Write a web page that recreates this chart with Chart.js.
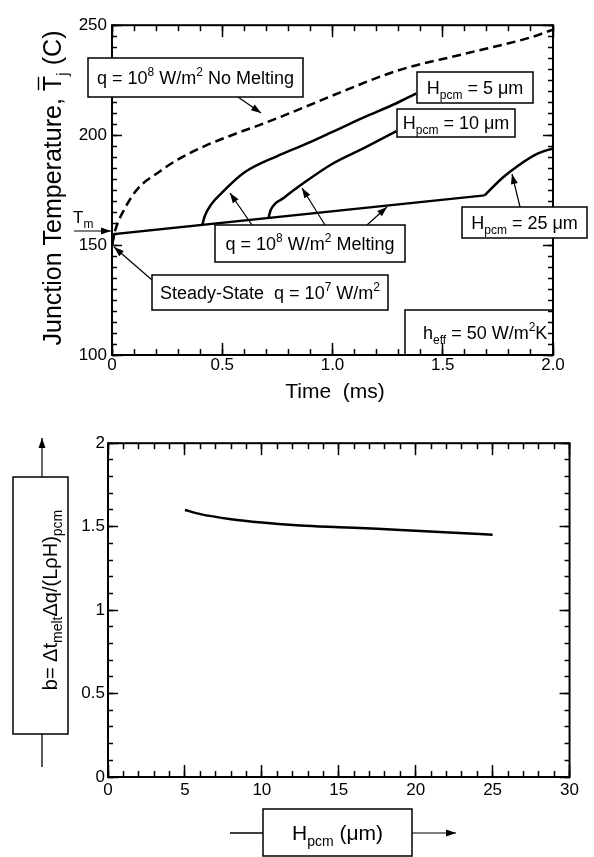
<!DOCTYPE html>
<html>
<head>
<meta charset="utf-8">
<script src="https://cdn.jsdelivr.net/npm/chart.js@4.4.0/dist/chart.umd.min.js"></script>
<style>
html,body{margin:0;padding:0;background:#fff;}
#wrap1{position:absolute;left:0;top:0;width:594px;height:420px;}
#wrap2{position:absolute;left:0;top:420px;width:594px;height:437px;}
</style>
</head>
<body>
<div id="wrap1"><canvas id="temp"></canvas></div>
<div id="wrap2"><canvas id="bfac"></canvas></div>
<script>
// ---------- data ----------
// top graph : junction temperature (C) vs time (ms)
const noMeltTime = [0, 0.014, 0.06, 0.12, 0.21, 0.30, 0.42, 0.57, 0.68, 0.88, 1.0, 1.3, 1.6, 1.9, 2.0];
const noMeltTemp = [150, 156.5, 167, 176, 183, 189, 195, 201, 205, 213, 218, 229.5, 237, 244.5, 248];

const plateauTime = [0, 0.01, 1.69];
const plateauTemp = [150, 155, 172.6];

const h5Time = [0.41, 0.42, 0.45, 0.5, 0.6, 0.75, 0.88, 1.0, 1.14, 1.29, 1.38];
const h5Temp = [159.3, 163, 168.5, 174, 183, 190.5, 196, 201.5, 208, 214.5, 219];

const h10Time = [0.71, 0.72, 0.78, 0.88, 1.0, 1.14, 1.29];
const h10Temp = [162.5, 166, 171.5, 179, 187, 194, 201.8];

const h25Time = [1.69, 1.77, 1.84, 1.93, 2.0];
const h25Temp = [172.6, 180.5, 186, 191.6, 194];

const timeTicks = [0, 0.5, 1.0, 1.5, 2.0];
const tempTicks = [100, 150, 200, 250];

// bottom graph : b vs H_pcm (um)
const hpcm = [5, 6, 8, 10, 12.5, 15, 17.5, 20, 22.5, 25];
const bValues = [1.60, 1.575, 1.545, 1.525, 1.507, 1.497, 1.488, 1.475, 1.463, 1.452];
const hTicks = [0, 5, 10, 15, 20, 25, 30];
const bTicks = [0, 0.5, 1, 1.5, 2];

const F = '"Liberation Sans", Arial, Helvetica, sans-serif';

function pts(xs, ys) { return xs.map((v, i) => ({x: v, y: ys[i]})); }
function stepsOf(min, max, step) {
  const n = Math.round((max - min) / step);
  return Array.from({length: n + 1}, (_, i) => Math.round((min + i * step) * 1000) / 1000);
}

// ---------- drawing helpers ----------
function segFont(size, m) {
  return (m === 'sub' || m === 'sup' ? Math.round(size * 0.68) : size) + 'px ' + F;
}
function richWidth(ctx, segs, size) {
  let w = 0;
  for (const [t, m] of segs) { ctx.font = segFont(size, m); w += ctx.measureText(t).width; }
  return w;
}
function drawRich(ctx, segs, x, y, size) {
  ctx.fillStyle = '#000';
  ctx.strokeStyle = '#000';
  ctx.textAlign = 'left';
  ctx.textBaseline = 'alphabetic';
  for (const [t, m] of segs) {
    ctx.font = segFont(size, m);
    const dy = m === 'sub' ? size * 0.27 : m === 'sup' ? -size * 0.42 : 0;
    ctx.fillText(t, x, y + dy);
    const w = ctx.measureText(t).width;
    if (m === 'bar') {
      ctx.lineWidth = 1.4;
      ctx.beginPath();
      ctx.moveTo(x + 1, y - size * 0.9);
      ctx.lineTo(x + w - 1, y - size * 0.9);
      ctx.stroke();
    }
    x += w;
  }
}
function seg(ctx, x0, y0, x1, y1) {
  ctx.beginPath(); ctx.moveTo(x0, y0); ctx.lineTo(x1, y1); ctx.stroke();
}
function arrow(ctx, x0, y0, x1, y1) {
  ctx.strokeStyle = '#000';
  ctx.fillStyle = '#000';
  ctx.lineWidth = 1.2;
  seg(ctx, x0, y0, x1, y1);
  const a = Math.atan2(y1 - y0, x1 - x0), L = 10, W = 3.5;
  ctx.beginPath();
  ctx.moveTo(x1, y1);
  ctx.lineTo(x1 - L * Math.cos(a) + W * Math.sin(a), y1 - L * Math.sin(a) - W * Math.cos(a));
  ctx.lineTo(x1 - L * Math.cos(a) - W * Math.sin(a), y1 - L * Math.sin(a) + W * Math.cos(a));
  ctx.closePath();
  ctx.fill();
}
function box(ctx, x0, y0, x1, y1, segs, size, openBottom) {
  ctx.strokeStyle = '#000';
  ctx.lineWidth = 1.5;
  ctx.beginPath();
  if (openBottom) {
    ctx.moveTo(x0, y1); ctx.lineTo(x0, y0); ctx.lineTo(x1, y0); ctx.lineTo(x1, y1);
  } else {
    ctx.fillStyle = '#fff';
    ctx.fillRect(x0, y0, x1 - x0, y1 - y0);
    ctx.rect(x0, y0, x1 - x0, y1 - y0);
  }
  ctx.stroke();
  if (segs) {
    const w = richWidth(ctx, segs, size);
    drawRich(ctx, segs, (x0 + x1) / 2 - w / 2, (y0 + y1) / 2 + size * 0.36, size);
  }
}
function frame(chart) {
  const ctx = chart.ctx, a = chart.chartArea;
  ctx.save();
  ctx.strokeStyle = '#000';
  ctx.lineWidth = 2;
  ctx.strokeRect(a.left, a.top, a.right - a.left, a.bottom - a.top);
  ctx.restore();
}

// inward tick marks drawn by Chart.js itself (negative tick length),
// extra zero-size axes give the minor ticks and the top / right sides
function tickGrid(len) {
  return {display: true, drawOnChartArea: false, drawTicks: true,
          tickLength: -len, tickColor: '#000', tickWidth: 1.5};
}
function markScale(position, min, max, values, len, weight) {
  const horiz = position === 'top' || position === 'bottom';
  return {
    type: 'linear', position, min, max, display: true, weight: weight || 0,
    afterFit: s => { if (horiz) s.height = 0; else s.width = 0; },
    afterBuildTicks: s => { s.ticks = values.map(v => ({value: v})); },
    grid: tickGrid(len),
    border: {display: false},
    ticks: {display: false, autoSkip: false}
  };
}

const tickFont = {family: F, size: 17};

// ..................top graph........................
const topPlugin = {
  id: 'topDeco',
  afterDraw(chart) {
    const ctx = chart.ctx;
    frame(chart);
    ctx.save();

    // y title
    ctx.save();
    const ySegs = [['Junction Temperature, ', ''], ['T', 'bar'], ['j', 'sub'], [' (C)', '']];
    ctx.translate(61, 188);
    ctx.rotate(-Math.PI / 2);
    drawRich(ctx, ySegs, -richWidth(ctx, ySegs, 25) / 2, 0, 25);
    ctx.restore();

    // x title
    const xSegs = [['Time  (ms)', '']];
    drawRich(ctx, xSegs, 335 - richWidth(ctx, xSegs, 21) / 2, 398, 21);

    // T_m marker
    drawRich(ctx, [['T', ''], ['m', 'sub']], 73, 223, 17);
    arrow(ctx, 74, 231, 111, 231);

    // arrows
    arrow(ctx, 238, 97, 261, 113);
    arrow(ctx, 520, 207, 512, 174);
    arrow(ctx, 252, 225, 230, 193);
    arrow(ctx, 325, 225, 302, 188);
    arrow(ctx, 367, 225, 387, 207);
    arrow(ctx, 152, 280, 114, 247);

    // labels
    box(ctx, 88, 58, 303, 97, [['q = 10', ''], ['8', 'sup'], [' W/m', ''], ['2', 'sup'], [' No Melting', '']], 18);
    box(ctx, 417, 72, 533, 103, [['H', ''], ['pcm', 'sub'], [' = 5 \u03bcm', '']], 18);
    box(ctx, 397, 109, 515, 137, [['H', ''], ['pcm', 'sub'], [' = 10 \u03bcm', '']], 18);
    box(ctx, 462, 207, 587, 238, [['H', ''], ['pcm', 'sub'], [' = 25 \u03bcm', '']], 18);
    box(ctx, 215, 225, 405, 262, [['q = 10', ''], ['8', 'sup'], [' W/m', ''], ['2', 'sup'], [' Melting', '']], 18);
    box(ctx, 152, 275, 388, 310, [['Steady-State  q = 10', ''], ['7', 'sup'], [' W/m', ''], ['2', 'sup']], 18);
    box(ctx, 405, 310, 553, 355, null, 18, true);
    drawRich(ctx, [['h', ''], ['eff', 'sub'], [' = 50 W/m', ''], ['2', 'sup'], ['K', '']], 423, 339, 18);
    ctx.restore();
  }
};

const timeMinor = stepsOf(0, 2, 0.1);
const tempMinor = stepsOf(100, 250, 5);

const ctx1 = document.getElementById('temp').getContext('2d');
const chart1 = new Chart(ctx1, {
  type: 'line',
  data: {
    datasets: [
      {data: pts(noMeltTime, noMeltTemp), borderDash: [9, 5], cubicInterpolationMode: 'monotone'},
      {data: pts(plateauTime, plateauTemp)},
      {data: pts(h5Time, h5Temp), cubicInterpolationMode: 'monotone'},
      {data: pts(h10Time, h10Temp), cubicInterpolationMode: 'monotone'},
      {data: pts(h25Time, h25Temp), cubicInterpolationMode: 'monotone'}
    ].map(d => Object.assign({xAxisID: 'x', yAxisID: 'y', borderColor: '#000', borderWidth: 2.5,
                              pointRadius: 0, fill: false}, d))
  },
  options: {
    responsive: true,
    maintainAspectRatio: false,
    animation: false,
    devicePixelRatio: 1,
    layout: {padding: {left: 0, right: 41, top: 17, bottom: 0}},
    plugins: {legend: {display: false}, tooltip: {enabled: false}},
    scales: {
      x: {
        type: 'linear', position: 'bottom', min: 0, max: 2, weight: 1,
        afterFit: s => { s.height = 65; },
        afterBuildTicks: s => { s.ticks = timeTicks.map(v => ({value: v})); },
        grid: tickGrid(12), border: {display: false},
        ticks: {padding: 12, color: '#000', font: tickFont, maxRotation: 0, autoSkip: false,
                callback: v => v === 0 ? '0' : v.toFixed(1)}
      },
      y: {
        type: 'linear', position: 'left', min: 100, max: 250, weight: 1,
        afterFit: s => { s.width = 112; },
        afterBuildTicks: s => { s.ticks = tempTicks.map(v => ({value: v})); },
        grid: tickGrid(10), border: {display: false},
        ticks: {padding: 15, color: '#000', font: tickFont, callback: v => String(v)}
      },
      xMinor: markScale('bottom', 0, 2, timeMinor, 6),
      xTop: markScale('top', 0, 2, timeTicks, 12),
      xTopMinor: markScale('top', 0, 2, timeMinor, 6),
      yMinor: markScale('left', 100, 250, tempMinor, 5),
      yRight: markScale('right', 100, 250, tempTicks, 10),
      yRightMinor: markScale('right', 100, 250, tempMinor, 5)
    }
  },
  plugins: [topPlugin]
});

// ..................bottom graph........................
const bottomPlugin = {
  id: 'bottomDeco',
  afterDraw(chart) {
    const ctx = chart.ctx;
    frame(chart);
    ctx.save();

    // boxed y title with arrow
    arrow(ctx, 42, 57, 42, 18);
    ctx.lineWidth = 1.3;
    seg(ctx, 42, 314, 42, 347);
    box(ctx, 13, 57, 68, 314, null, 20);
    ctx.save();
    const ySegs = [['b= \u0394t', ''], ['melt', 'sub'], ['\u0394q/(L\u03c1H)', ''], ['pcm', 'sub']];
    ctx.translate(57, 180);
    ctx.rotate(-Math.PI / 2);
    drawRich(ctx, ySegs, -richWidth(ctx, ySegs, 20) / 2, 0, 20);
    ctx.restore();

    // boxed x title with arrow
    ctx.strokeStyle = '#000';
    ctx.lineWidth = 1.3;
    seg(ctx, 230, 413, 263, 413);
    arrow(ctx, 412, 413, 456, 413);
    box(ctx, 263, 389, 412, 436, [['H', ''], ['pcm', 'sub'], [' (\u03bcm)', '']], 21);
    ctx.restore();
  }
};

const hMinor = stepsOf(0, 30, 1);
const bMinor = stepsOf(0, 2, 0.1);

const ctx2 = document.getElementById('bfac').getContext('2d');
const chart2 = new Chart(ctx2, {
  type: 'line',
  data: {
    datasets: [{
      xAxisID: 'x', yAxisID: 'y',
      data: pts(hpcm, bValues),
      borderColor: '#000', borderWidth: 2.5, pointRadius: 0, fill: false,
      cubicInterpolationMode: 'monotone'
    }]
  },
  options: {
    responsive: true,
    maintainAspectRatio: false,
    animation: false,
    devicePixelRatio: 1,
    layout: {padding: {left: 0, right: 22, top: 20, bottom: 0}},
    plugins: {legend: {display: false}, tooltip: {enabled: false}},
    scales: {
      x: {
        type: 'linear', position: 'bottom', min: 0, max: 30, weight: 1,
        afterFit: s => { s.height = 80; },
        afterBuildTicks: s => { s.ticks = hTicks.map(v => ({value: v})); },
        grid: tickGrid(12), border: {display: false},
        ticks: {padding: 15, color: '#000', font: tickFont, maxRotation: 0, autoSkip: false,
                callback: v => String(v)}
      },
      y: {
        type: 'linear', position: 'left', min: 0, max: 2, weight: 1,
        afterFit: s => { s.width = 108; },
        afterBuildTicks: s => { s.ticks = bTicks.map(v => ({value: v})); },
        grid: tickGrid(10), border: {display: false},
        ticks: {padding: 13, color: '#000', font: tickFont, callback: v => String(v)}
      },
      xMinor: markScale('bottom', 0, 30, hMinor, 6),
      xTop: markScale('top', 0, 30, hTicks, 12),
      xTopMinor: markScale('top', 0, 30, hMinor, 6),
      yMinor: markScale('left', 0, 2, bMinor, 5),
      yRight: markScale('right', 0, 2, bTicks, 10),
      yRightMinor: markScale('right', 0, 2, bMinor, 5)
    }
  },
  plugins: [bottomPlugin]
});
</script>
</body>
</html>
